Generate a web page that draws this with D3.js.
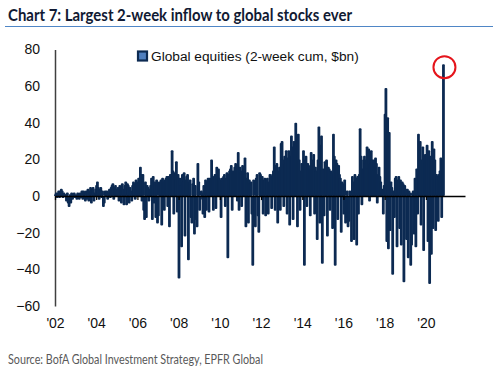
<!DOCTYPE html>
<html>
<head>
<meta charset="utf-8">
<script src="https://cdn.jsdelivr.net/npm/d3@7"></script>
<style>
  body { margin: 0; background: #fff; }
  svg { display: block; }
</style>
</head>
<body>
<div id="chart"></div>
<script>
// 2-week cumulative flows to global equities, $bn, two readings per month
const flows2002 = [1, 2, -1, 2, 3, -1, 3, 4, 3, -1, 2, 1, 1, -3, 2, -4, -6, 1, -4, 2, -2, 1, 2, -1];
const flows2003 = [1, -2, 2, 1, -2, 2, -1, 3, -2, 3, 2, -3, 3, -2, 4, -3, 3, 5, -4, 4, 5, -3, 2, 4];
const flows2004 = [6, 8, 5, -2, 4, 5, -1, 3, -6, -4, 3, 2, 3, -2, 2, 4, -1, 5, 6, 7, -2, 5, 6, 4];
const flows2005 = [3, 5, -3, 6, 5, -4, 7, 4, -5, 6, 8, -5, 7, 6, -4, 5, 3, -3, 6, 8, 7, -2, 9, 8];
const flows2006 = [7, 10, 9, 16, 12, -3, 12, -8, -13, 8, -12, 6, 5, -3, 4, 6, 10, -13, 11, -4, 8, -12, 9, -15];
const flows2007 = [-11, 8, 7, 9, -16, 10, 8, -8, 9, 10, 11, -6, 11, -17, 12, 10, 25, 14, -10, 13, 9, 19, -9, 12];
const flows2008 = [-45, 10, 6, -28, 12, 8, 13, -22, 9, 11, 12, -35, 8, 9, -12, -15, 7, 10, -21, 6, -13, -17, 18, 8];
const flows2009 = [-8, -2, 3, 2, -10, 6, -12, 9, -8, 8, 10, -9, 10, 8, 20, 9, -8, 11, 12, -7, 16, 11, 15, 10];
const flows2010 = [9, -12, 10, 8, 11, 12, -6, 10, 13, -34, 12, 14, 15, 17, -8, 14, 13, 16, 18, 17, -3, 24, -8, 16];
const flows2011 = [14, -6, 17, 15, 12, 21, -17, 10, 13, -15, 9, 7, 8, -10, -38, 9, -14, -17, 10, 12, -11, -20, 13, 12];
const flows2012 = [10, 11, -10, 9, 10, -11, 9, 10, -10, 8, 12, 11, -7, 12, 14, 27, -8, 17, 18, -15, 14, 16, -8, 29];
const flows2013 = [30, 20, -6, 22, 18, 25, -10, 21, 25, -16, 22, 33, 27, -13, 30, 28, 40, 26, -17, 34, 20, -8, 14, 18];
const flows2014 = [16, 25, -38, 20, 22, -6, 18, 17, 15, -11, 24, 20, 18, 23, -10, 16, 14, -24, 20, 38, -15, 28, 33, -37];
const flows2015 = [15, -11, 19, 18, 20, -22, 16, 15, -8, 14, 13, -18, 34, 22, -38, 20, 18, -13, 17, 12, 10, -20, 8, 7];
const flows2016 = [-10, 9, -15, -12, 3, -17, -14, 3, 2, -25, 11, 8, -24, 12, 10, -27, 11, -10, 12, 37, 22, -5, 15, 20];
const flows2017 = [22, 18, 20, 27, 15, 26, -3, 18, 25, 20, 14, 20, 16, 21, 18, -4, 12, 16, 11, 8, 2, 4, -10, 6];
const flows2018 = [45, 59, -25, 43, -29, 35, -19, 8, 5, -43, 3, -12, 10, 11, -28, 9, 11, -18, 9, -27, 8, 7, -47, 6];
const flows2019 = [4, -24, 4, -34, 3, 2, -38, -27, 2, 3, -21, 10, -28, 15, -10, 34, 12, 30, -16, 20, 27, -30, 18, 23];
const flows2020 = [23, 28, -25, 25, -48, 22, -32, 30, -18, 26, 20, -19, 12, 11, -14, 12, 14, 21, -12, 20, 72];

const series = [flows2002, flows2003, flows2004, flows2005, flows2006, flows2007, flows2008,
  flows2009, flows2010, flows2011, flows2012, flows2013, flows2014, flows2015, flows2016,
  flows2017, flows2018, flows2019, flows2020];
const firstYear = 2002;

const xTickYears = [2002, 2004, 2006, 2008, 2010, 2012, 2014, 2016, 2018, 2020];
const yTicks = [-60, -40, -20, 0, 20, 40, 60, 80];

const titleText = "Chart 7: Largest 2-week inflow to global stocks ever";
const legendText = "Global equities (2-week cum, $bn)";
const sourceText = "Source: BofA Global Investment Strategy, EPFR Global";

var data = [];
series.forEach(function (vals, k) {
    vals.forEach(function (v, i) {
        data.push({ date: new Date(firstYear + k, Math.floor(i / 2), i % 2 ? 23 : 8), value: v });
    });
});

var width = 500, height = 373;
var navy = "#0c2a52";

var svg = d3.select("#chart").append("svg")
    .attr("width", width)
    .attr("height", height);

var xScale = d3.scaleTime()
    .domain([new Date(2002, 0, 1), new Date(2021, 10, 25)])
    .range([55, 465]);
var yScale = d3.scaleLinear()
    .domain([-60, 80])
    .range([306, 49.5]);

// title + rule
svg.append("text")
    .attr("x", 8)
    .attr("y", 21)
    .attr("font-family", "Lato, 'Open Sans', sans-serif")
    .attr("font-weight", "bold")
    .attr("font-size", "17px")
    .attr("fill", "#111a33")
    .attr("textLength", 344)
    .attr("lengthAdjust", "spacingAndGlyphs")
    .text(titleText);
svg.append("line")
    .attr("x1", 5).attr("x2", 493)
    .attr("y1", 26.5).attr("y2", 26.5)
    .attr("stroke", "#4f86c6")
    .attr("stroke-width", 1);

// y axis
var yAxis = svg.append("g")
    .attr("transform", "translate(55,0)")
    .call(d3.axisLeft(yScale).tickValues(yTicks).tickSize(0).tickPadding(15));
yAxis.select(".domain").attr("stroke", "#404040").attr("stroke-width", 1.5);
yAxis.selectAll("text")
    .attr("font-family", "'Liberation Sans', Arial, sans-serif")
    .attr("font-size", "14px")
    .attr("fill", "#111");

// bars
svg.append("g").selectAll(".bar")
    .data(data)
    .enter().append("rect")
    .attr("class", "bar")
    .attr("x", function (d) { return xScale(d.date) - 1.4; })
    .attr("width", 2.8)
    .attr("rx", 1)
    .attr("y", function (d) { return Math.min(yScale(d.value), yScale(0)); })
    .attr("height", function (d) { return Math.abs(yScale(d.value) - yScale(0)); })
    .attr("fill", navy);

// zero line with ticks
var tickDates = xTickYears.map(function (y) { return new Date(y, 0, 1); });
var zeroAxis = svg.append("g")
    .attr("transform", "translate(0," + yScale(0) + ")")
    .call(d3.axisBottom(xScale).tickValues(tickDates).tickSize(4).tickSizeOuter(0).tickFormat(""));
zeroAxis.select(".domain").attr("stroke", "#000").attr("stroke-width", 1.5);
zeroAxis.selectAll(".tick line").attr("stroke", "#000").attr("stroke-width", 1.2);

// x labels at the bottom
var xLabels = svg.append("g")
    .attr("transform", "translate(0,318)")
    .call(d3.axisBottom(xScale).tickValues(tickDates).tickSize(0).tickPadding(0).tickFormat(d3.timeFormat("'%y")));
xLabels.select(".domain").remove();
xLabels.selectAll("text")
    .attr("font-family", "'Liberation Sans', Arial, sans-serif")
    .attr("font-size", "14px")
    .attr("fill", "#111");

// legend
svg.append("rect")
    .attr("x", 138).attr("y", 51.5)
    .attr("width", 9).attr("height", 9)
    .attr("fill", "#4f7fbf")
    .attr("stroke", navy)
    .attr("stroke-width", 2.2);
svg.append("text")
    .attr("x", 151)
    .attr("y", 61)
    .attr("font-family", "'Liberation Sans', Arial, sans-serif")
    .attr("font-size", "13.7px")
    .attr("fill", "#111")
    .text(legendText);

// red circle around the record
var peak = data.reduce(function (a, b) { return b.value > a.value ? b : a; });
svg.append("circle")
    .attr("cx", xScale(peak.date) + 1)
    .attr("cy", yScale(peak.value) + 3)
    .attr("r", 11)
    .attr("fill", "none")
    .attr("stroke", "#e5141b")
    .attr("stroke-width", 2);

// source
svg.append("text")
    .attr("x", 8)
    .attr("y", 364)
    .attr("font-family", "Lato, 'Open Sans', sans-serif")
    .attr("font-size", "12.5px")
    .attr("fill", "#595959")
    .attr("textLength", 255)
    .attr("lengthAdjust", "spacingAndGlyphs")
    .text(sourceText);
</script>
</body>
</html>
